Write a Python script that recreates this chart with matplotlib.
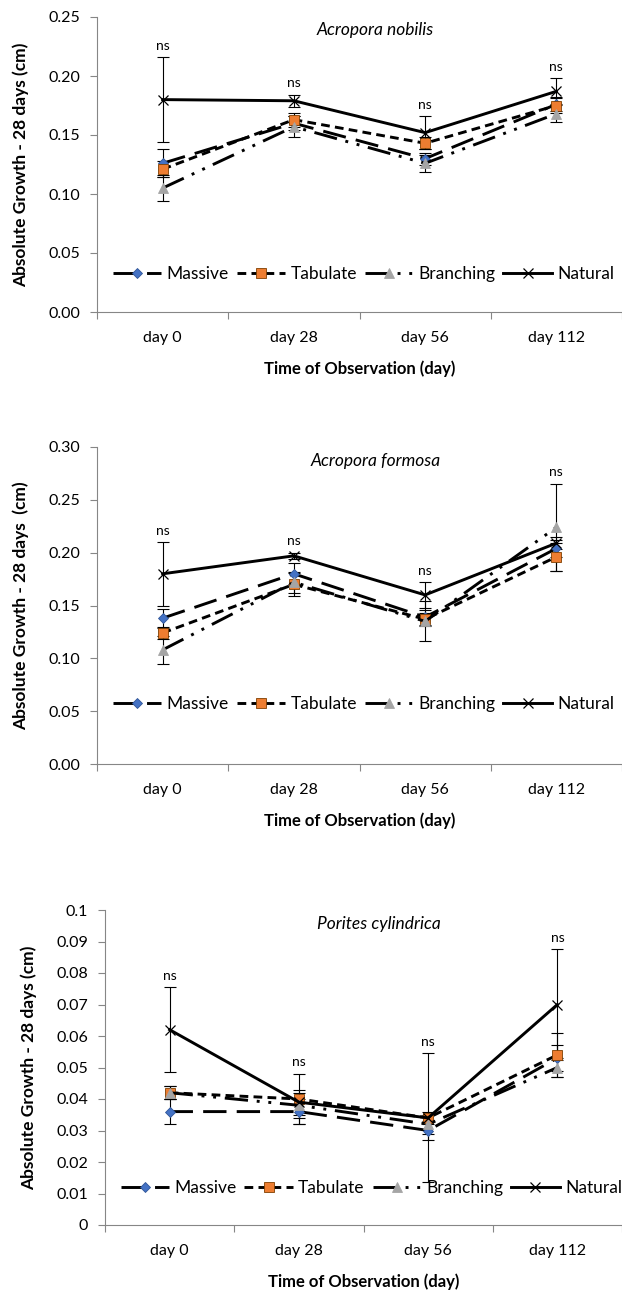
import matplotlib.pyplot as plt
from matplotlib.ticker import FixedLocator, FuncFormatter, NullFormatter

plt.rcParams['font.family'] = ['Lato', 'DejaVu Sans']

days = ["day 0", "day 28", "day 56", "day 112"]
names = ["Massive", "Tabulate", "Branching", "Natural"]

# Acropora nobilis
nob_mean = [
    [0.126, 0.160, 0.130, 0.176],   # Massive
    [0.121, 0.163, 0.143, 0.175],   # Tabulate
    [0.105, 0.157, 0.126, 0.168],   # Branching
    [0.180, 0.179, 0.152, 0.187],   # Natural
]
nob_err = [
    [0.012, 0.006, 0.005, 0.006],
    [0.007, 0.006, 0.005, 0.006],
    [0.011, 0.009, 0.007, 0.007],
    [0.036, 0.005, 0.014, 0.011],
]

# Acropora formosa
for_mean = [
    [0.138, 0.180, 0.139, 0.204],
    [0.124, 0.170, 0.137, 0.196],
    [0.108, 0.172, 0.135, 0.224],
    [0.180, 0.197, 0.160, 0.209],
]
for_err = [
    [0.009, 0.010, 0.007, 0.008],
    [0.006, 0.011, 0.006, 0.013],
    [0.013, 0.010, 0.019, 0.041],
    [0.030, 0.003, 0.012, 0.006],
]

# Porites cylindrica
por_mean = [
    [0.036, 0.036, 0.030, 0.053],
    [0.042, 0.040, 0.034, 0.054],
    [0.042, 0.038, 0.032, 0.050],
    [0.062, 0.039, 0.034, 0.070],
]
por_err = [
    [0.004, 0.004, 0.003, 0.004],
    [0.002, 0.008, 0.002, 0.007],
    [0.002, 0.004, 0.003, 0.003],
    [0.0135, 0.004, 0.0205, 0.0175],
]

styles = [
    dict(dashes=(8, 3.5), marker='D', ms=5.5, mfc='#4472C4', mec='#2F5597', mew=0.6),
    dict(dashes=(3, 1.8), marker='s', ms=7, mfc='#ED7D31', mec='#7F3F00', mew=0.6),
    dict(dashes=(8, 3, 1, 3, 1, 3), marker='^', ms=7, mfc='#A5A5A5', mec='#A5A5A5', mew=0.6),
    dict(linestyle='-', marker='x', ms=6.5, mfc='black', mec='black', mew=0.9),
]

W, H = 622, 1298
fig = plt.figure(figsize=(W / 100, H / 100), dpi=100)


def panel(left, top, bottom, title, means, errs, ymax, ystep, fmt, ylabel, leg_y):
    ax = fig.add_axes([left / W, 1 - bottom / H, 1 - left / W, (bottom - top) / H])
    x = list(range(len(days)))
    for m, e in zip(means, errs):
        ax.errorbar(x, m, yerr=e, fmt='none', ecolor='black', elinewidth=0.8,
                    capsize=4, capthick=0.8, zorder=2)
    for name, m, st in zip(names, means, styles):
        ax.plot(x, m, color='black', lw=2.1, label=name, zorder=3, **st)
    # ns labels above the highest error bar
    for i in x:
        top_val = max(m[i] + e[i] for m, e in zip(means, errs))
        ax.annotate("ns", (i, top_val), xytext=(0, 4), textcoords='offset points',
                    ha='center', va='bottom', fontsize=10)
    ax.set_xlim(-0.5, len(days) - 0.5)
    ax.set_ylim(0, ymax)
    nt = int(round(ymax / ystep))
    ax.yaxis.set_major_locator(FixedLocator([k * ystep for k in range(nt + 1)]))
    ax.yaxis.set_major_formatter(FuncFormatter(fmt))
    ax.xaxis.set_major_locator(FixedLocator([k - 0.5 for k in range(len(days) + 1)]))
    ax.xaxis.set_major_formatter(NullFormatter())
    ax.xaxis.set_minor_locator(FixedLocator(x))
    ax.set_xticklabels(days, minor=True)
    ax.tick_params(axis='x', which='minor', length=0, pad=14, labelsize=11.5)
    ax.tick_params(axis='x', which='major', length=5, color='#868686', width=0.8)
    ax.tick_params(axis='y', length=5, color='#868686', width=0.8, pad=7, labelsize=11.5)
    for s in ['top', 'right']:
        ax.spines[s].set_visible(False)
    for s in ['left', 'bottom']:
        ax.spines[s].set_color('#868686')
        ax.spines[s].set_linewidth(0.8)
    ax.text(0.53, 0.955, title, transform=ax.transAxes, ha='center', va='center',
            fontsize=12.5, style='italic')
    ax.set_xlabel("Time of Observation (day)", fontsize=12, fontweight='bold', labelpad=11)
    ax.set_ylabel(ylabel, fontsize=12.5, fontweight='bold', labelpad=14)
    ax.legend(loc='center left', bbox_to_anchor=(0.03, leg_y), ncol=4, frameon=False,
              fontsize=12.5, handlelength=2.8, handletextpad=0.3, columnspacing=0.45,
              borderaxespad=0, borderpad=0)
    return ax


fmt2 = lambda v, p: f"{v:.2f}"
fmtg = lambda v, p: f"{round(v, 2):g}"

panel(97, 17, 312, "Acropora nobilis", nob_mean, nob_err, 0.25, 0.05, fmt2,
      "Absolute Growth - 28 days (cm)", 0.13)
panel(97, 447, 764, "Acropora formosa", for_mean, for_err, 0.30, 0.05, fmt2,
      "Absolute Growth - 28 days  (cm)", 0.19)
panel(105, 910, 1225, "Porites cylindrica", por_mean, por_err, 0.1, 0.01, fmtg,
      "Absolute Growth - 28 days (cm)", 0.117)

fig.savefig("out.png", dpi=100)
